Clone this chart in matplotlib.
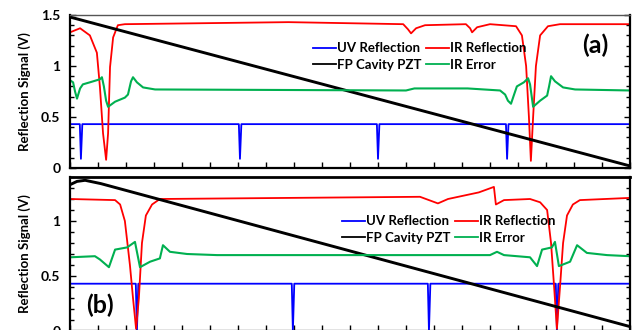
import matplotlib
matplotlib.use('Agg')
import matplotlib.pyplot as plt
from matplotlib.ticker import MultipleLocator, FormatStrFormatter

plt.rcParams['font.family'] = ['Lato', 'DejaVu Sans']
plt.rcParams['font.weight'] = 'bold'

# x axis in tick divisions (0..20), no labels on the original

# ---- panel (a) ----
a_uv_level = 0.43
a_uv_depth = 0.09
a_uv_dips = [0.39, 6.07, 11.0, 15.61]

a_pzt_x = [0, 20]
a_pzt_y = [1.48, 0.02]

a_ir_x = [0, 0.36, 0.71, 0.96, 1.07, 1.18, 1.29, 1.36, 1.43, 1.54, 1.71, 1.96,
          7.8, 11.9, 12.07, 12.18, 12.36, 12.68, 14.14, 14.29, 14.36, 14.54, 15.0,
          15.93, 16.14, 16.29, 16.39, 16.46, 16.54, 16.64, 16.79, 17.07, 17.5, 20]
a_ir_y = [1.33, 1.37, 1.30, 1.13, 0.79, 0.34, 0.08, 0.34, 0.99, 1.28, 1.40, 1.41,
          1.43, 1.41, 1.36, 1.32, 1.37, 1.40, 1.41, 1.37, 1.33, 1.38, 1.41,
          1.39, 1.30, 1.00, 0.50, 0.07, 0.50, 1.00, 1.30, 1.39, 1.41, 1.41]

a_err_x = [0, 0.11, 0.18, 0.25, 0.36, 0.46, 0.71, 1.07, 1.14, 1.21, 1.29, 1.36,
           1.61, 1.96, 2.07, 2.18, 2.25, 2.39, 2.61, 3.04, 12.0, 12.3, 14.2,
           15.36, 15.54, 15.64, 15.75, 15.86, 15.96, 16.21, 16.36, 16.43, 16.54,
           16.79, 17.04, 17.11, 17.18, 17.32, 17.61, 18.04, 20]
a_err_y = [0.86, 0.84, 0.75, 0.68, 0.78, 0.82, 0.84, 0.87, 0.89, 0.80, 0.66, 0.60,
           0.65, 0.69, 0.72, 0.85, 0.89, 0.84, 0.79, 0.77, 0.76, 0.78, 0.78,
           0.76, 0.72, 0.66, 0.63, 0.72, 0.80, 0.84, 0.88, 0.82, 0.60,
           0.66, 0.71, 0.80, 0.90, 0.85, 0.79, 0.77, 0.76]

# ---- panel (b) ----
b_uv_level = 0.43
b_uv_depth = 0.0
b_uv_dips = [2.39, 7.96, 12.82, 17.39]

b_pzt_x = [0, 0.25, 0.54, 1.1, 20]
b_pzt_y = [1.33, 1.36, 1.37, 1.34, 0.04]

b_ir_x = [0, 1.61, 1.79, 1.96, 2.14, 2.25, 2.36, 2.46, 2.57, 2.71, 2.93, 3.21,
          12.5, 13.14, 13.5, 14.6, 15.14, 15.21, 15.5, 16.43, 16.79, 17.04,
          17.18, 17.29, 17.39, 17.5, 17.61, 17.75, 17.96, 18.21, 20]
b_ir_y = [1.20, 1.19, 1.15, 1.00, 0.60, 0.30, 0.02, 0.30, 0.80, 1.05, 1.15, 1.20,
          1.22, 1.16, 1.20, 1.26, 1.31, 1.15, 1.19, 1.20, 1.17, 1.10,
          0.80, 0.40, 0.02, 0.40, 0.80, 1.05, 1.15, 1.19, 1.21]

b_err_x = [0, 0.89, 1.07, 1.39, 1.61, 2.04, 2.32, 2.5, 2.86, 3.21, 3.32, 3.57,
           4.18, 5.25, 15.0, 15.25, 15.5, 16.43, 16.68, 16.86, 17.21, 17.32,
           17.46, 17.86, 18.11, 18.46, 19.18, 20]
b_err_y = [0.67, 0.68, 0.65, 0.58, 0.74, 0.76, 0.81, 0.58, 0.63, 0.66, 0.78, 0.72,
           0.70, 0.69, 0.69, 0.72, 0.69, 0.67, 0.59, 0.74, 0.76, 0.81,
           0.59, 0.63, 0.78, 0.71, 0.69, 0.68]

UV_C = '#0000ff'
IR_C = '#ff0000'
PZT_C = '#000000'
ERR_C = '#00b050'


def uv_trace(level, depth, dips):
    xs = [0]
    ys = [level]
    for d in dips:
        xs += [d - 0.04, d, d + 0.05]
        ys += [level, depth, level]
    xs.append(20)
    ys.append(level)
    return xs, ys


fig = plt.figure(figsize=(6.33, 3.30), dpi=100)
ax_a = fig.add_axes([70 / 633, 162 / 330, 560 / 633, 153 / 330])
ax_b = fig.add_axes([70 / 633, -1 / 330, 560 / 633, 154 / 330])

panels = [
    (ax_a, a_uv_level, a_uv_depth, a_uv_dips, a_pzt_x, a_pzt_y, a_ir_x, a_ir_y,
     a_err_x, a_err_y, 1.5),
    (ax_b, b_uv_level, b_uv_depth, b_uv_dips, b_pzt_x, b_pzt_y, b_ir_x, b_ir_y,
     b_err_x, b_err_y, 1.4),
]

for ax, uvl, uvd, uvdips, px, py, irx, iry, ex, ey, ytop in panels:
    ux, uy = uv_trace(uvl, uvd, uvdips)
    h_uv, = ax.plot(ux, uy, color=UV_C, lw=1.3, label='UV Reflection')
    h_ir, = ax.plot(irx, iry, color=IR_C, lw=1.3, label='IR Reflection')
    h_pzt, = ax.plot(px, py, color=PZT_C, lw=2.1, label='FP Cavity PZT')
    h_err, = ax.plot(ex, ey, color=ERR_C, lw=1.5, label='IR Error')

    ax.set_xlim(0, 20)
    ax.set_ylim(0, ytop)
    ax.xaxis.set_major_locator(MultipleLocator(1))
    ax.set_xticklabels([])
    ax.yaxis.set_major_locator(MultipleLocator(0.5))
    ax.yaxis.set_minor_locator(MultipleLocator(0.1))
    ax.yaxis.set_major_formatter(FormatStrFormatter('%g'))
    ax.tick_params(axis='x', direction='in', length=4, width=1, top=False)
    ax.tick_params(axis='y', which='both', direction='in', left=True, right=True,
                   labelsize=10, width=1, pad=7)
    ax.tick_params(axis='y', which='major', length=4)
    ax.tick_params(axis='y', which='minor', length=3)
    for s in ['left', 'right', 'bottom']:
        ax.spines[s].set_linewidth(1.6)
    ax.set_ylabel('Reflection Signal (V)', fontsize=9.5, fontweight='bold', labelpad=7)

    leg = ax.legend([h_uv, h_pzt, h_ir, h_err],
                    ['UV Reflection', 'FP Cavity PZT', 'IR Reflection', 'IR Error'],
                    ncol=2, frameon=False, fontsize=9.5, handlelength=1.7,
                    handletextpad=0.1, columnspacing=0.35, labelspacing=0.35,
                    loc='upper left', borderaxespad=0)
    for line in leg.get_lines():
        line.set_linewidth(1.3)

ax_a.spines['top'].set_linewidth(1.0)
ax_a.spines['top'].set_color('#555555')
ax_b.spines['top'].set_linewidth(2.0)

# legend placement and panel tags
ax_a.get_legend().set_bbox_to_anchor((238 / 560, 1 - 22 / 153), transform=ax_a.transAxes)
ax_b.get_legend().set_bbox_to_anchor((267 / 560, 1 - 33 / 154), transform=ax_b.transAxes)
ax_a.text(525 / 560, 1 - 30 / 153, '(a)', transform=ax_a.transAxes, fontsize=18,
          fontweight='bold', ha='center', va='center')
ax_b.text(30 / 560, 1 - 128 / 154, '(b)', transform=ax_b.transAxes, fontsize=18,
          fontweight='bold', ha='center', va='center')

fig.savefig('out.png', dpi=100)
